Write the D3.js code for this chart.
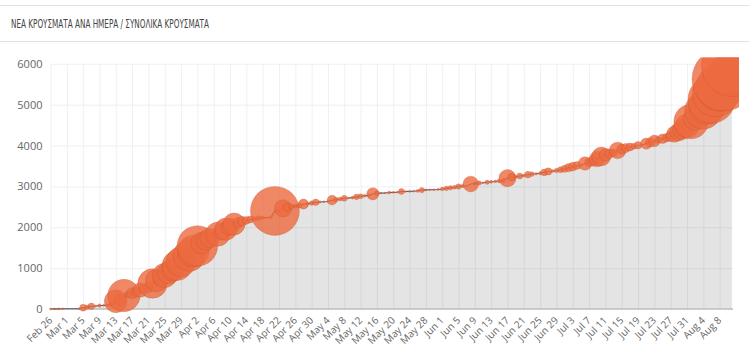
<!DOCTYPE html>
<html>
<head>
<meta charset="utf-8">
<script src="https://cdn.jsdelivr.net/npm/d3@7"></script>
<style>
  html, body { margin: 0; padding: 0; background: #fff; }
  svg { display: block; }
</style>
</head>
<body>
<svg id="chart" width="749" height="359"></svg>
<script>
// ---------------- DATA ----------------
const titleText = "ΝΕΑ ΚΡΟΥΣΜΑΤΑ ΑΝΑ ΗΜΕΡΑ / ΣΥΝΟΛΙΚΑ ΚΡΟΥΣΜΑΤΑ";
const startDate = "2020-02-26";
const endDate = "2020-08-11";

// cumulative cases, one per day from Feb 26 to Aug 11
const totalCases = [
  1, 3, 4, 7,                                   // Feb 26-29
  7, 7, 7, 9, 31, 45, 66, 73, 84, 89, 99, 117, 190, 228, 331, 352,   // Mar 1-16
  387, 418, 464, 495, 530, 624, 695, 743, 821, 892, 966, 1061, 1156, 1212, 1314, // Mar 17-31
  1415, 1544, 1613, 1673, 1735, 1755, 1832, 1884, 1955, 2011, 2081, 2114, 2145, 2170, 2192, // Apr 1-15
  2207, 2224, 2235, 2235, 2245, 2401, 2408, 2463, 2490, 2506, 2517, 2534, 2566, 2576, 2591, // Apr 16-30
  2612, 2620, 2626, 2632, 2663, 2678, 2691, 2710, 2716, 2726, 2744, 2760, 2770, 2780, 2819, // May 1-15
  2834, 2836, 2840, 2850, 2853, 2855, 2874, 2876, 2878, 2882, 2892, 2909, 2915, 2917, 2918, 2925, // May 16-31
  2937, 2952, 2967, 2980, 2997, 3008, 3008, 3058, 3068, 3083, 3088, 3102, 3112, 3121, 3134, // Jun 1-15
  3148, 3203, 3227, 3237, 3256, 3266, 3287, 3302, 3310, 3321, 3343, 3366, 3376, 3390, 3409, // Jun 16-30
  3432, 3458, 3486, 3511, 3519, 3562, 3589, 3622, 3672, 3732, 3772, 3803, 3826, 3879, 3910, // Jul 1-15
  3939, 3964, 3983, 4007, 4012, 4048, 4077, 4114, 4135, 4166, 4193, 4227, 4279, 4336, 4401, 4477, // Jul 16-31
  4587, 4662, 4737, 4855, 4973, 5123, 5270, 5421, 5623, 5749, 5942  // Aug 1-11
];

// new cases per day (bubble size)
const newCases = [
  1, 2, 1, 3,
  0, 0, 0, 2, 22, 14, 21, 7, 11, 5, 10, 18, 73, 38, 103, 21,
  35, 31, 46, 31, 35, 94, 71, 48, 78, 71, 74, 95, 95, 56, 102,
  101, 129, 69, 60, 62, 20, 77, 52, 71, 56, 70, 33, 31, 25, 22,
  15, 17, 11, 0, 10, 156, 7, 55, 27, 16, 11, 17, 32, 10, 15,
  21, 8, 6, 6, 31, 15, 13, 19, 6, 10, 18, 16, 10, 10, 39,
  15, 2, 4, 10, 3, 2, 19, 2, 2, 4, 10, 17, 6, 2, 1, 7,
  12, 15, 15, 13, 17, 11, 0, 50, 10, 15, 5, 14, 10, 9, 13,
  14, 55, 24, 10, 19, 10, 21, 15, 8, 11, 22, 23, 10, 14, 19,
  23, 26, 28, 25, 8, 43, 27, 33, 50, 60, 40, 31, 23, 53, 31,
  29, 25, 19, 24, 5, 36, 29, 37, 21, 31, 27, 34, 52, 57, 65, 76,
  110, 75, 75, 118, 118, 150, 147, 151, 202, 126, 193
];

const yTickValues = [0, 1000, 2000, 3000, 4000, 5000, 6000];
const xTickLabels = [
  "Feb 26", "Mar 1", "Mar 5", "Mar 9", "Mar 13", "Mar 17", "Mar 21", "Mar 25", "Mar 29",
  "Apr 2", "Apr 6", "Apr 10", "Apr 14", "Apr 18", "Apr 22", "Apr 26", "Apr 30",
  "May 4", "May 8", "May 12", "May 16", "May 20", "May 24", "May 28",
  "Jun 1", "Jun 5", "Jun 9", "Jun 13", "Jun 17", "Jun 21", "Jun 25", "Jun 29",
  "Jul 3", "Jul 7", "Jul 11", "Jul 15", "Jul 19", "Jul 23", "Jul 27", "Jul 31",
  "Aug 4", "Aug 8"
];

// ---------------- CHART ----------------
const svg = d3.select("#chart");
const W = 749, H = 359;
const parse = d3.utcParse("%Y-%m-%d");
const parseLabel = d3.utcParse("%Y %b %e");
const days = d3.utcDay.range(parse(startDate), d3.utcDay.offset(parse(endDate), 1));
const data = days.map((d, i) => ({ date: d, total: totalCases[i], added: newCases[i] }));
const tickDates = xTickLabels.map(s => parseLabel("2020 " + s));

const plot = { left: 50.5, right: 733, top: 63.8, bottom: 309 };

const x = d3.scaleUtc()
  .domain([parse(startDate), parse(endDate)])
  .range([plot.left, 731.9]);
const y = d3.scaleLinear().domain([0, 6000]).range([plot.bottom, plot.top]);
const r = d3.scaleLinear().domain([0, 156]).range([0, 24.5]);

// header panel lines
svg.append("line").attr("x1", 0).attr("x2", W).attr("y1", 5.5).attr("y2", 5.5)
  .attr("stroke", "#e2e2e2").attr("stroke-width", 1);
svg.append("line").attr("x1", 0).attr("x2", W).attr("y1", 41.5).attr("y2", 41.5)
  .attr("stroke", "#e2e2e2").attr("stroke-width", 1);
svg.append("text")
  .attr("x", 11).attr("y", 27.5)
  .attr("font-family", "'Liberation Sans Narrow', 'DejaVu Sans Condensed', 'Open Sans', sans-serif")
  .attr("font-size", 11.5)
  .attr("fill", "#444")
  .attr("textLength", 198)
  .attr("lengthAdjust", "spacingAndGlyphs")
  .text(titleText);

// gridlines
const grid = svg.append("g");
grid.append("g")
  .attr("transform", `translate(${plot.left},0)`)
  .call(d3.axisLeft(y).tickValues(yTickValues).tickSize(-(plot.right - plot.left)).tickFormat(""))
  .call(g => g.select(".domain").remove())
  .call(g => g.selectAll("line").attr("stroke", "#eef0f4").attr("stroke-width", 1));
grid.append("g")
  .attr("transform", `translate(0,${plot.bottom})`)
  .call(d3.axisBottom(x).tickValues(tickDates).tickSize(-(plot.bottom - plot.top)).tickFormat(""))
  .call(g => g.select(".domain").remove())
  .call(g => g.selectAll("line").attr("stroke", "#eef0f4").attr("stroke-width", 1));

// area
const area = d3.area().x(d => x(d.date)).y0(y(0)).y1(d => y(d.total));
svg.append("path").datum(data)
  .attr("d", area)
  .attr("fill", "rgba(0,0,0,0.105)");

// x axis line + labels
const xAxis = svg.append("g")
  .attr("transform", `translate(0,${plot.bottom})`)
  .call(d3.axisBottom(x).tickValues(tickDates).tickSize(0).tickFormat(d3.utcFormat("%b %-d")));
xAxis.select(".domain").attr("stroke", "#aaa").attr("d", `M${plot.left},0H${plot.right}`);
xAxis.selectAll("text")
  .attr("font-family", "'Open Sans', sans-serif")
  .attr("font-size", 10)
  .attr("fill", "#666")
  .attr("text-anchor", "end")
  .attr("dy", "0.35em")
  .attr("y", 0)
  .attr("transform", "translate(-0.5,9.5) rotate(-45)");

// y axis labels
const yAxis = svg.append("g")
  .attr("transform", `translate(${plot.left - 8},0)`)
  .call(d3.axisLeft(y).tickValues(yTickValues).tickSize(0).tickFormat(d3.format("d")));
yAxis.select(".domain").remove();
yAxis.selectAll("text")
  .attr("font-family", "'Open Sans', sans-serif")
  .attr("font-size", 11)
  .attr("fill", "#666")
  .attr("x", 0);

// line
const line = d3.line().x(d => x(d.date)).y(d => y(d.total));
svg.append("path").datum(data)
  .attr("d", line)
  .attr("fill", "none")
  .attr("stroke", "#505a64")
  .attr("stroke-width", 1.1);

// bubbles
svg.append("clipPath").attr("id", "clip")
  .append("rect").attr("x", 0).attr("y", 57.5).attr("width", 739).attr("height", H - 57.5);
svg.append("g").attr("clip-path", "url(#clip)")
  .selectAll("circle")
  .data(data.filter(d => d.added > 0))
  .join("circle")
  .attr("cx", d => x(d.date))
  .attr("cy", d => y(d.total))
  .attr("r", d => Math.max(r(d.added), 1))
  .attr("fill", "#ec6a40")
  .attr("fill-opacity", 0.8)
  .attr("stroke", "#b84a26")
  .attr("stroke-opacity", 0.3)
  .attr("stroke-width", 0.8);
</script>
</body>
</html>
